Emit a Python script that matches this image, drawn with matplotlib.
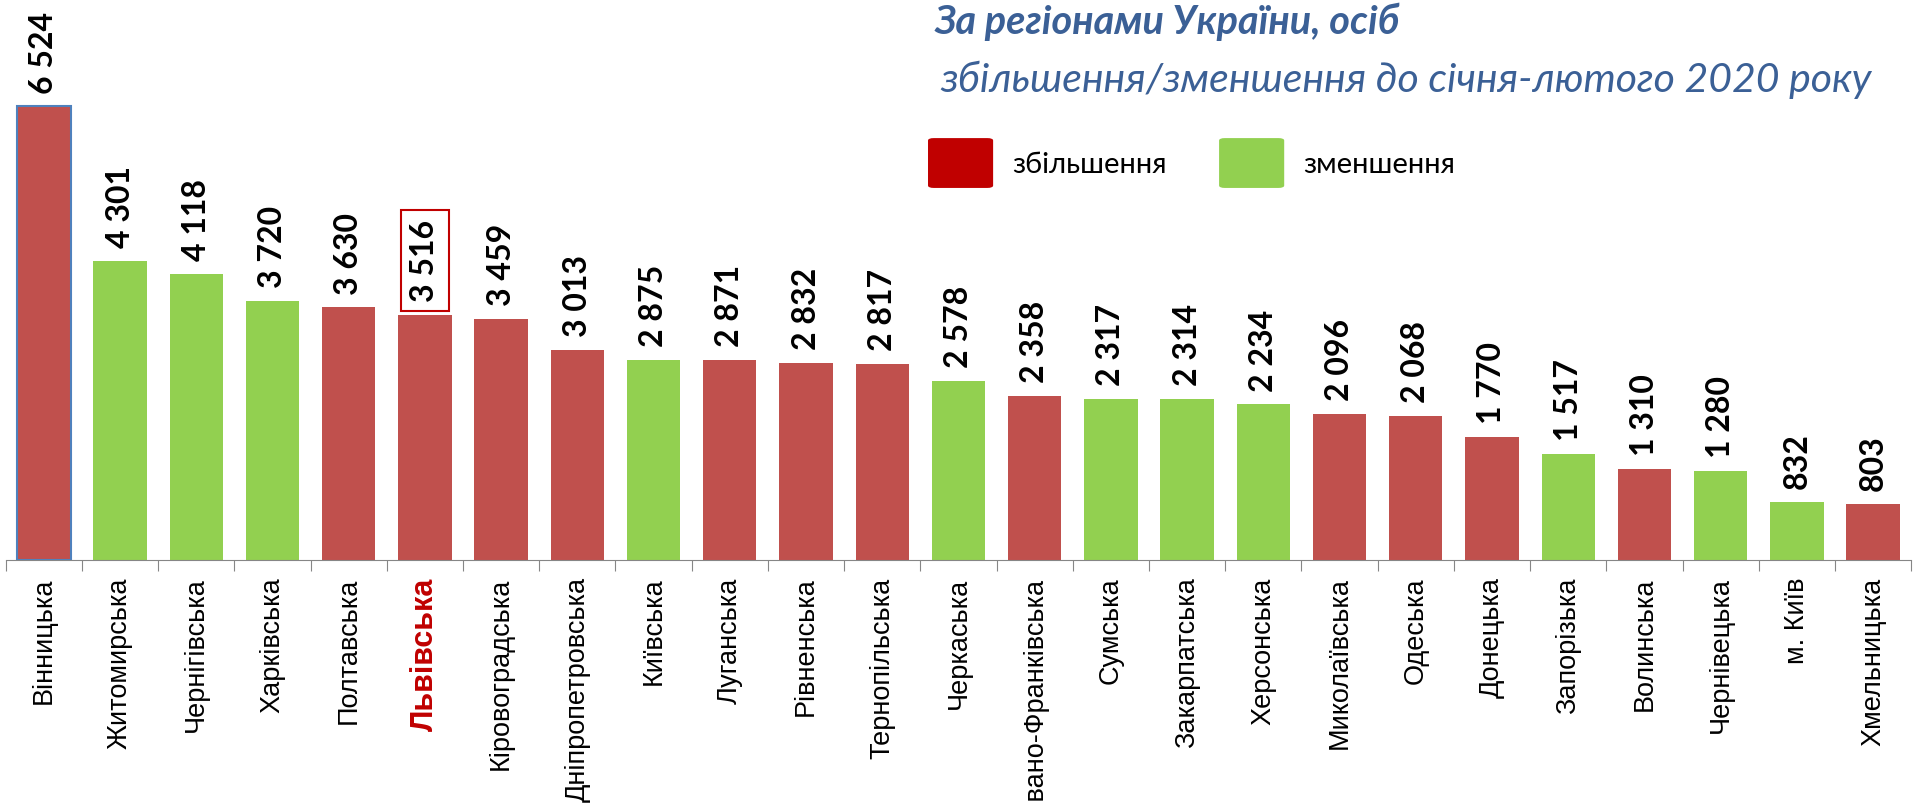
import matplotlib
matplotlib.use("Agg")
import matplotlib.pyplot as plt
from matplotlib.patches import FancyBboxPatch

# Дані за регіонами (осіб), відсортовано за спаданням
regions = ["Вінницька", "Житомирська", "Чернігівська", "Харківська", "Полтавська",
           "Львівська", "Кіровоградська", "Дніпропетровська", "Київська", "Луганська",
           "Рівненська", "Тернопільська", "Черкаська", "Івано-Франківська", "Сумська",
           "Закарпатська", "Херсонська", "Миколаївська", "Одеська", "Донецька",
           "Запорізька", "Волинська", "Чернівецька", "м. Київ", "Хмельницька"]
values = [6524, 4301, 4118, 3720, 3630, 3516, 3459, 3013, 2875, 2871, 2832, 2817, 2578,
          2358, 2317, 2314, 2234, 2096, 2068, 1770, 1517, 1310, 1280, 832, 803]
# True = збільшення, False = зменшення
increase = [True, False, False, False, True, True, True, True, False, True, True, True, False,
            True, False, False, False, True, True, True, False, True, False, False, True]

RED_BAR = "#C0504D"
GREEN_BAR = "#92D050"
TITLE_BLUE = "#3B6096"

fig = plt.figure(figsize=(19.15, 8.04), dpi=100)
ax = fig.add_axes([0.003, 0.3027, 0.995, 0.6973])

colors = [RED_BAR if inc else GREEN_BAR for inc in increase]
x = list(range(len(regions)))
bars = ax.bar(x, values, width=0.7, color=colors)
# перший стовпчик має синю рамку
bars[0].set_edgecolor("#4F81BD")
bars[0].set_linewidth(1.5)

ax.set_xlim(-0.5, len(regions) - 0.5)
ax.set_ylim(0, 8070)

for i, v in enumerate(values):
    txt = f"{v:,}".replace(",", " ")
    kw = {}
    if regions[i] == "Львівська":
        kw["bbox"] = dict(boxstyle="square,pad=0.3", fc="none", ec="#C00000", lw=1.5)
    ax.annotate(txt, (i, v), xytext=(0, 10), textcoords="offset points",
                rotation=90, ha="center", va="bottom", fontsize=23,
                fontweight="bold", family="Lato", **kw)

for s in ["top", "right", "left"]:
    ax.spines[s].set_visible(False)
ax.spines["bottom"].set_color("#868686")
ax.set_yticks([])

# поділки між категоріями
ax.set_xticks([i - 0.5 for i in range(len(regions) + 1)])
ax.set_xticklabels([])
ax.tick_params(axis="x", which="major", length=8, color="#868686", direction="out")
ax.set_xticks(x, minor=True)
ax.set_xticklabels(regions, minor=True, rotation=90, fontsize=19.5, family="Liberation Sans")
ax.tick_params(axis="x", which="minor", length=0, pad=12)
for lbl in ax.get_xticklabels(minor=True):
    if lbl.get_text() == "Львівська":
        lbl.set_color("#C00000")
        lbl.set_fontweight("bold")
        lbl.set_fontsize(22)

# заголовок
fig.text(0.488, 0.997, "За регіонами України, осіб", fontsize=28.5, fontweight="bold",
         style="italic", color=TITLE_BLUE, family="Lato", va="top", ha="left")
fig.text(0.491, 0.925, "збільшення/зменшення до січня-лютого 2020 року", fontsize=29.5,
         style="italic", color=TITLE_BLUE, family="Lato", va="top", ha="left")

# легенда
for x0, col, label in [(0.4846, "#C00000", "збільшення"), (0.6366, GREEN_BAR, "зменшення")]:
    fig.patches.append(FancyBboxPatch((x0, 0.765), 0.034, 0.062,
                                      boxstyle="round,pad=0,rounding_size=0.003",
                                      transform=fig.transFigure, fc=col, ec="none"))
    fig.text(x0 + 0.044, 0.795, label, fontsize=21, family="Lato", va="center", ha="left")

fig.savefig("out.png", dpi=100)
